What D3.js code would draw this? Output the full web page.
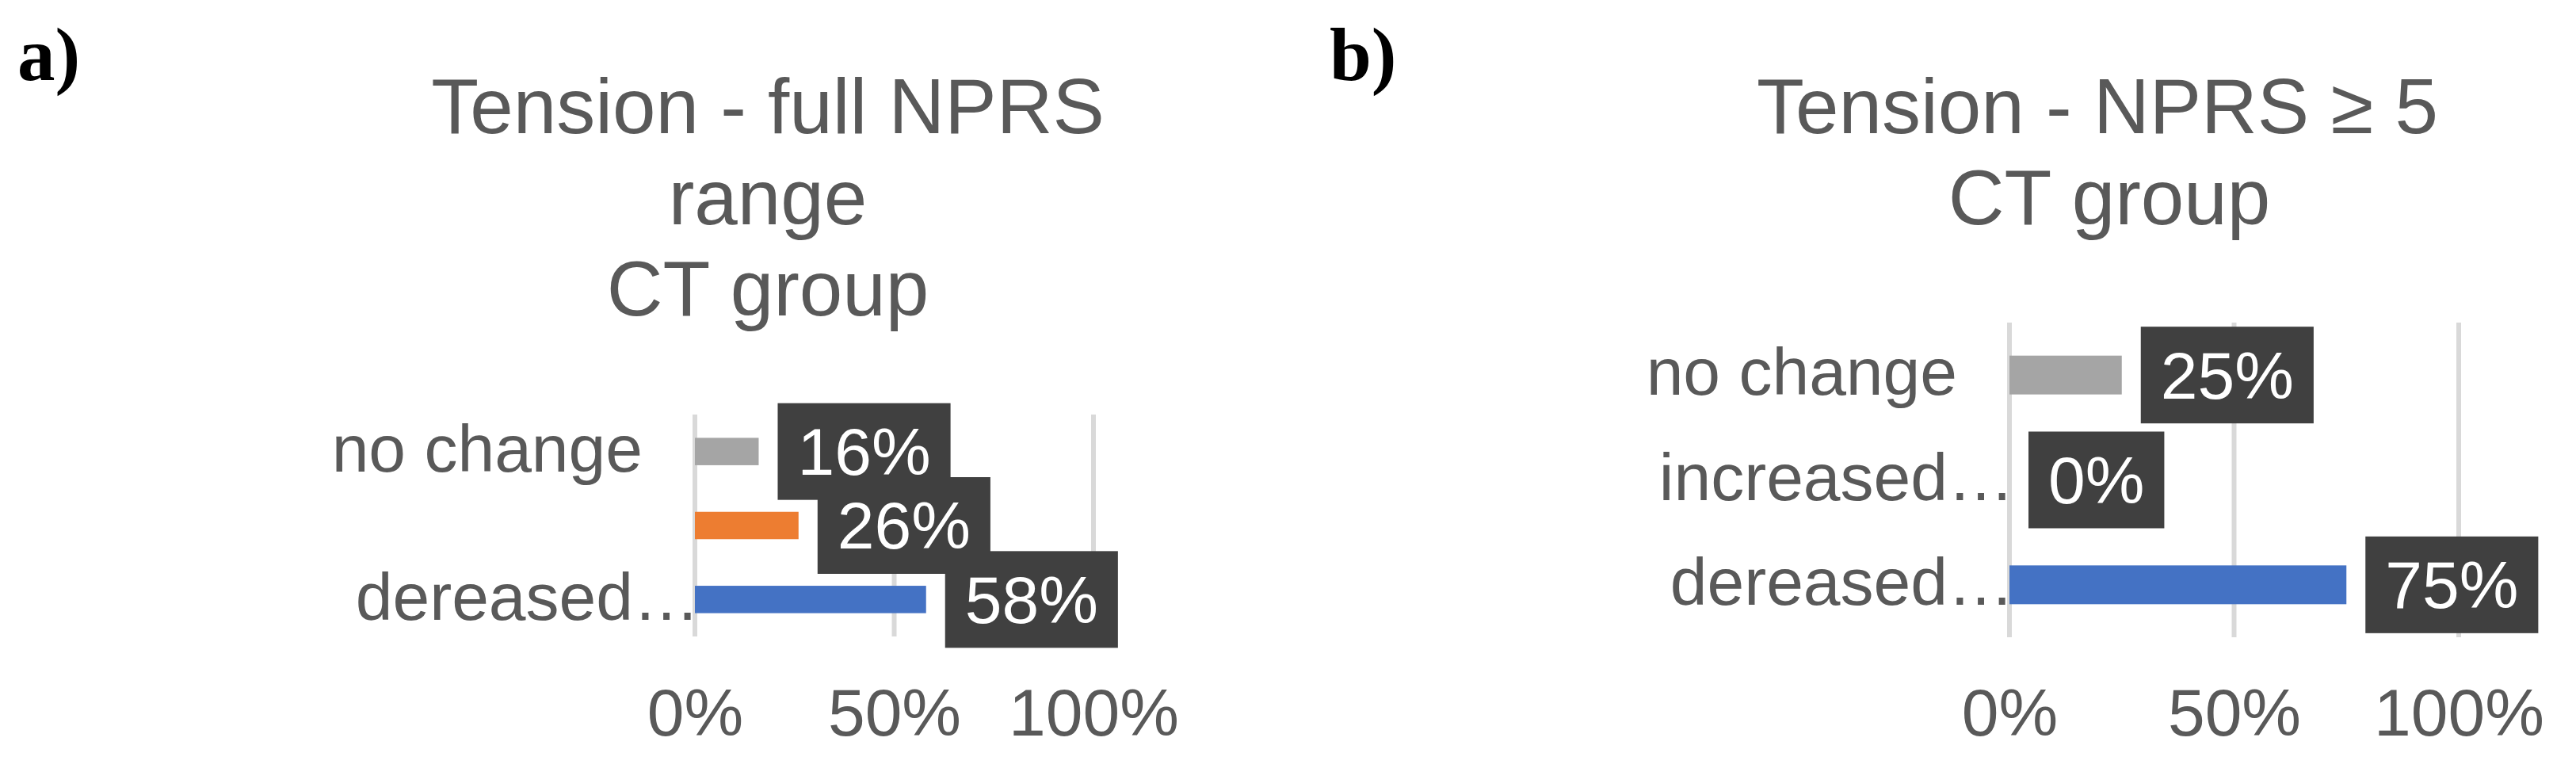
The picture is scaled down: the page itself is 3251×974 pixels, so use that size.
<!DOCTYPE html>
<html>
<head>
<meta charset="utf-8">
<script src="https://cdn.jsdelivr.net/npm/d3@7"></script>
<style>
  html, body { margin: 0; padding: 0; background: #ffffff; }
  svg { display: block; }
</style>
</head>
<body>
<svg id="chart" width="3251" height="974"></svg>
<script>
// ---------- data ----------
const panelLetters = ["a)", "b)"];
const titleLinesA = ["Tension - full NPRS", "range", "CT group"];
const titleLinesB = ["Tension - NPRS \u2265 5", "CT group"];
const categories = ["no change", "increased\u2026", "dereased\u2026"];
const categoryLabelsA = ["no change", "", "dereased\u2026"];
const categoryLabelsB = ["no change", "increased\u2026", "dereased\u2026"];
const valuesA = [16, 26, 58];
const valuesB = [25, 0, 75];
const xTicks = [0, 50, 100];
const xTickLabels = ["0%", "50%", "100%"];

// ---------- style ----------
const barColors = ["#A5A5A5", "#ED7D31", "#4472C4"];
const textGray = "#595959";
const gridColor = "#D9D9D9";
const boxColor = "#404040";
const sansFont = "'Liberation Sans', Arial, Helvetica, sans-serif";
const serifFont = "'Liberation Serif', 'Times New Roman', Times, serif";

const svg = d3.select("#chart");
svg.append("rect").attr("width", 3251).attr("height", 974).attr("fill", "#fff");

const panels = [
  { letter: panelLetters[0], letterX: 22, titles: titleLinesA, titleX: 969, firstLineDx: 0,
    labels: categoryLabelsA, values: valuesA,
    xr: [877, 1380], yr: [523, 803] },
  { letter: panelLetters[1], letterX: 1678, titles: titleLinesB, titleX: 2662, firstLineDx: -15,
    labels: categoryLabelsB, values: valuesB,
    xr: [2536, 3103], yr: [407, 804] }
];

panels.forEach(p => {
  const g = svg.append("g");

  // panel letter
  g.append("text")
    .attr("x", p.letterX).attr("y", 101)
    .attr("font-family", serifFont).attr("font-weight", "bold")
    .attr("font-size", 95).attr("fill", "#000")
    .text(p.letter);

  // title
  g.selectAll("text.title").data(p.titles).enter().append("text")
    .attr("class", "title")
    .attr("x", p.titleX)
    .attr("dx", (d, i) => i === 0 ? p.firstLineDx : 0)
    .attr("y", (d, i) => 168 + i * 115)
    .attr("text-anchor", "middle")
    .attr("font-family", sansFont).attr("font-size", 98)
    .attr("fill", textGray)
    .text(d => d);

  const x = d3.scaleLinear().domain([0, 100]).range(p.xr);
  const y = d3.scaleBand().domain(categories).range(p.yr)
    .paddingInner(0.63).paddingOuter(0.315);

  // gridlines
  g.selectAll("line.grid").data(xTicks).enter().append("line")
    .attr("class", "grid")
    .attr("x1", d => x(d)).attr("x2", d => x(d))
    .attr("y1", p.yr[0]).attr("y2", p.yr[1])
    .attr("stroke", gridColor).attr("stroke-width", 6);

  // x axis labels
  const xAxis = d3.axisBottom(x).tickValues(xTicks)
    .tickFormat((d, i) => xTickLabels[i]).tickSize(0);
  const xg = g.append("g").attr("transform", `translate(0,${p.yr[1]})`).call(xAxis);
  xg.select(".domain").remove();
  xg.selectAll("text")
    .attr("y", 928 - p.yr[1]).attr("dy", 0)
    .attr("font-family", sansFont).attr("font-size", 84)
    .attr("fill", textGray);

  // y axis labels
  const yAxis = d3.axisLeft(y).tickSize(0).tickPadding(-6)
    .tickFormat((d, i) => p.labels[i]);
  const yg = g.append("g").attr("transform", `translate(${p.xr[0]},0)`).call(yAxis);
  yg.select(".domain").remove();
  yg.selectAll("text")
    .attr("dy", "0.3em")
    .attr("dx", d => d === "no change" ? -72 : 0)
    .attr("font-family", sansFont).attr("font-size", 84)
    .attr("fill", textGray);

  // bars
  g.selectAll("rect.bar").data(p.values).enter().append("rect")
    .attr("class", "bar")
    .attr("x", x(0))
    .attr("y", (d, i) => y(categories[i]))
    .attr("width", d => x(d) - x(0))
    .attr("height", y.bandwidth())
    .attr("fill", (d, i) => barColors[i]);

  // data labels
  p.values.forEach((v, i) => {
    const cy = y(categories[i]) + y.bandwidth() / 2;
    const lg = g.append("g");
    const box = lg.append("rect").attr("fill", boxColor);
    const t = lg.append("text")
      .attr("font-family", sansFont).attr("font-size", 84)
      .attr("fill", "#fff").attr("text-anchor", "middle")
      .attr("dy", "0.35em")
      .text(v + "%");
    const tw = t.node().getComputedTextLength();
    const bw = tw + 50, bh = 122;
    const bx = x(v) + 24;
    box.attr("x", bx).attr("y", cy - bh / 2).attr("width", bw).attr("height", bh);
    t.attr("x", bx + bw / 2).attr("y", cy);
  });
});
</script>
</body>
</html>
